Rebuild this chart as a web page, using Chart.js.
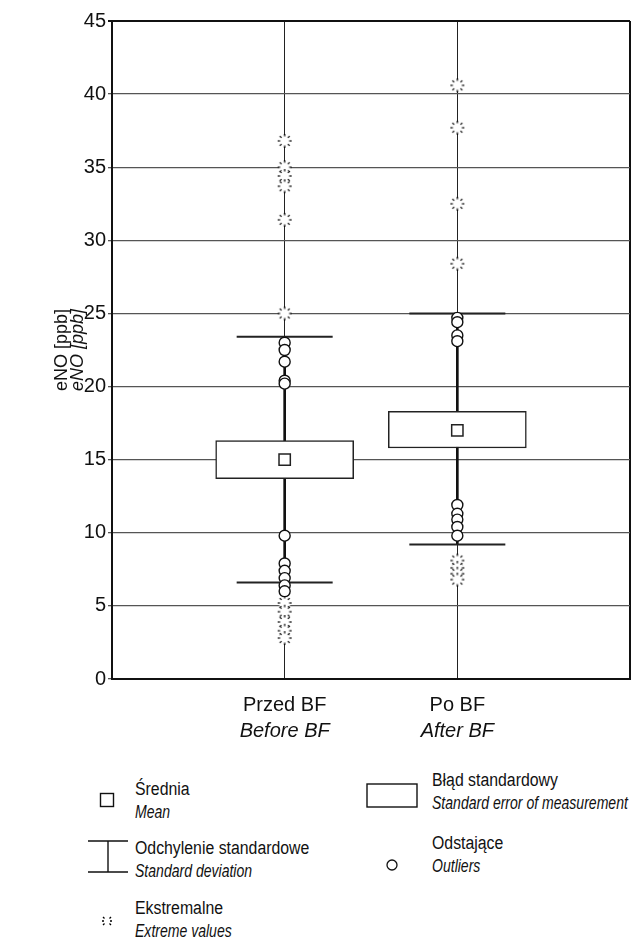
<!DOCTYPE html>
<html>
<head>
<meta charset="utf-8">
<script src="https://cdn.jsdelivr.net/npm/chart.js@4"></script>
<style>
html, body { margin: 0; background: #fff; overflow: hidden; font-family: 'Liberation Sans', Arial, sans-serif; color: #111; }
#wrap { position: relative; width: 631px; height: 945px; overflow: hidden; }
#box { position: absolute; left: 0; top: 0; width: 631px; height: 750px; }
.lg { position: absolute; font-size: 18px; line-height: 23px; white-space: nowrap; }
.lg span { display: block; transform: scaleX(0.88); transform-origin: 0 0; }
.lg i { display: block; transform: scaleX(0.78); transform-origin: 0 0; }
.ic { position: absolute; }
</style>
</head>
<body>
<div id="wrap">
  <div id="box"><canvas id="myChart"></canvas></div>

  <svg class="ic" style="left:99px;top:792px" width="16" height="16"><rect x="1.5" y="1.5" width="13" height="13" fill="#fff" stroke="#111" stroke-width="1.4"/></svg>
  <div class="lg" style="left:135px;top:778px"><span>Średnia</span><i>Mean</i></div>

  <svg class="ic" style="left:86px;top:838px" width="44" height="38"><path d="M2 3 H42 M22 3 V34 M2 34 H42" stroke="#111" stroke-width="1.4" fill="none"/></svg>
  <div class="lg" style="left:135px;top:837px"><span>Odchylenie standardowe</span><i>Standard deviation</i></div>

  <svg class="ic" style="left:100px;top:914px" width="14" height="14"><path d="M3 3 L4.5 4.5 M11 3 L9.5 4.5 M2 7 H4 M10 7 H12 M3 11 L4.5 9.5 M11 11 L9.5 9.5" stroke="#000" stroke-width="1.3" fill="none"/></svg>
  <div class="lg" style="left:135px;top:897px"><span>Ekstremalne</span><i>Extreme values</i></div>

  <svg class="ic" style="left:366px;top:783px" width="52" height="25"><rect x="1" y="1" width="50" height="23" fill="#fff" stroke="#111" stroke-width="1.4"/></svg>
  <div class="lg" style="left:432px;top:769px"><span>Błąd standardowy</span><i>Standard error of measurement</i></div>

  <svg class="ic" style="left:385px;top:858px" width="14" height="14"><circle cx="7" cy="7" r="5" fill="#fff" stroke="#111" stroke-width="1.3"/></svg>
  <div class="lg" style="left:432px;top:832px"><span>Odstające</span><i>Outliers</i></div>
</div>

<script>
// categories (Polish / English)
const categories = ['Przed BF', 'Po BF']
const categoriesEn = ['Before BF', 'After BF']

// eNO [ppb]
const meanValues = [15.0, 17.0]
const seLow = [13.7, 15.8]
const seHigh = [16.3, 18.3]
const sdLow = [6.6, 9.2]
const sdHigh = [23.4, 25.0]

const outliersBefore = [23.0, 22.5, 21.7, 20.4, 20.2, 9.8, 7.9, 7.4, 6.9, 6.4, 6.0]
const outliersAfter = [24.7, 24.4, 23.5, 23.1, 11.9, 11.3, 10.9, 10.4, 9.8]
const extremesBefore = [36.8, 35.0, 34.4, 33.7, 31.4, 25.0, 5.2, 4.6, 3.9, 3.3, 2.8]
const extremesAfter = [40.6, 37.7, 32.5, 28.4, 8.1, 7.6, 7.2, 6.8]

const yTicks = [0, 5, 10, 15, 20, 25, 30, 35, 40, 45]

Chart.defaults.font.family = "'Liberation Sans', Arial, sans-serif"
Chart.defaults.font.size = 20
Chart.defaults.color = '#111'

// star-like marker for extreme values
const makeStar = r => {
    const c = document.createElement('canvas')
    const s = r * 2 + 2
    c.width = s
    c.height = s
    const ctx = c.getContext('2d')
    const m = s / 2
    ctx.fillStyle = '#fff'
    ctx.beginPath()
    ctx.arc(m, m, r - 1, 0, Math.PI * 2)
    ctx.fill()
    ctx.strokeStyle = '#000'
    ctx.lineWidth = 1.2
    for (let k = 0; k < 8; k++) {
        const a = k * Math.PI / 4
        ctx.beginPath()
        ctx.moveTo(m + Math.cos(a) * (r - 2.5), m + Math.sin(a) * (r - 2.5))
        ctx.lineTo(m + Math.cos(a) * r, m + Math.sin(a) * r)
        ctx.stroke()
    }
    return c
}
const star = makeStar(7)

const pts = (cat, vals) => vals.map(v => ({ x: cat, y: v }))

const data = {
    labels: ['', ...categories, ''],
    datasets: [
        {
            type: 'bar',
            label: 'sd line',
            data: categories.map((c, i) => ({ x: c, y: [sdLow[i], sdHigh[i]] })),
            backgroundColor: '#111',
            borderWidth: 0,
            barThickness: 2,
            grouped: false,
            order: 5
        },
        {
            type: 'bar',
            label: 'Błąd standardowy',
            data: categories.map((c, i) => ({ x: c, y: [seLow[i], seHigh[i]] })),
            backgroundColor: '#fff',
            borderColor: '#222',
            borderWidth: 1.5,
            borderSkipped: false,
            barThickness: 138,
            grouped: false,
            order: 4
        },
        {
            type: 'line',
            label: 'Odchylenie standardowe',
            data: categories.flatMap((c, i) => [{ x: c, y: sdLow[i] }, { x: c, y: sdHigh[i] }]),
            showLine: false,
            pointStyle: 'line',
            pointRadius: 48,
            borderColor: '#222',
            borderWidth: 2,
            order: 3
        },
        {
            type: 'line',
            label: 'Średnia',
            data: categories.map((c, i) => ({ x: c, y: meanValues[i] })),
            showLine: false,
            pointStyle: 'rect',
            pointRadius: 8,
            backgroundColor: '#fff',
            borderColor: '#222',
            borderWidth: 1.5,
            order: 2
        },
        {
            type: 'line',
            label: 'Odstające',
            data: [...pts(categories[0], outliersBefore), ...pts(categories[1], outliersAfter)],
            showLine: false,
            pointStyle: 'circle',
            pointRadius: 5.5,
            backgroundColor: '#fff',
            borderColor: '#111',
            borderWidth: 1.4,
            order: 1
        },
        {
            type: 'line',
            label: 'Ekstremalne',
            data: [...pts(categories[0], extremesBefore), ...pts(categories[1], extremesAfter)],
            showLine: false,
            pointStyle: star,
            pointRadius: 7,
            order: 0
        }
    ]
}

const config = {
    type: 'bar',
    data: data,
    options: {
        responsive: true,
        maintainAspectRatio: false,
        animation: false,
        layout: { autoPadding: false, padding: { left: 53, right: 1, top: 21, bottom: 6 } },
        plugins: { legend: { display: false }, tooltip: { enabled: false } },
        scales: {
            x: {
                type: 'category',
                offset: false,
                grid: {
                    offset: false,
                    color: ctx => ctx.index === 3 ? '#111' : '#222',
                    lineWidth: ctx => ctx.index === 3 ? 2 : 1,
                    tickLength: 14,
                    tickColor: 'rgba(0,0,0,0)'
                },
                border: { color: '#111', width: 2 },
                ticks: { padding: 0, maxRotation: 0, autoSkip: false },
                afterFit: s => { s.height = 40 },
                weight: 0
            },
            x2: {
                type: 'category',
                position: 'bottom',
                labels: ['', ...categoriesEn, ''],
                offset: false,
                grid: { display: false, drawTicks: false },
                border: { display: false },
                ticks: { padding: 0, maxRotation: 0, autoSkip: false, font: { style: 'italic' } },
                afterFit: s => { s.height = 25 },
                weight: 1
            },
            y: {
                min: 0,
                max: 45,
                afterBuildTicks: s => { s.ticks = yTicks.map(v => ({ value: v })) },
                grid: {
                    color: ctx => ctx.tick && ctx.tick.value === 45 ? '#111' : '#555',
                    lineWidth: ctx => ctx.tick && ctx.tick.value === 45 ? 2 : 1.3,
                    tickLength: 4
                },
                border: { color: '#111', width: 2 },
                ticks: { padding: 2 },
                title: { display: true, text: 'eNO [ppb]', font: { style: 'italic', size: 18, lineHeight: 1 }, padding: 0 },
                afterFit: s => { s.width = 43 },
                weight: 0
            },
            y2: {
                position: 'left',
                grid: { display: false },
                border: { display: false },
                ticks: { display: false },
                title: { display: true, text: 'eNO [ppb]', font: { size: 18, lineHeight: 1 }, padding: 0 },
                afterFit: s => { s.width = 16 },
                weight: 1
            }
        }
    }
}

let myChart = new Chart(document.getElementById('myChart'), config)
</script>
</body>
</html>
